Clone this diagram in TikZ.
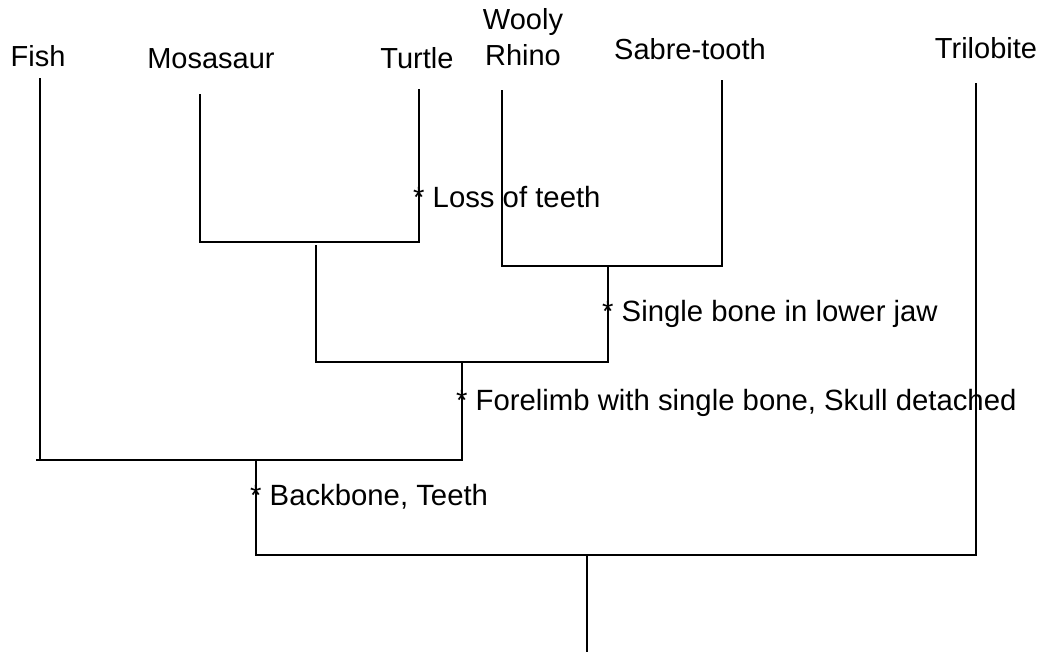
\documentclass[tikz,border=0pt]{standalone}
\usepackage{fontspec}
\setmainfont{Liberation Sans}
\begin{document}
\begin{tikzpicture}[x=1pt,y=-1pt,
  lbl/.style={font=\fontsize{29}{34}\selectfont, inner sep=0pt, anchor=base},
  trait/.style={font=\fontsize{29.3}{34}\selectfont, inner sep=0pt, anchor=base west},
  branch/.style={line width=2pt, line cap=rect}]
\useasboundingbox (0,0) rectangle (1041,652);
% taxa labels
\node[lbl] (fish) at (38,67) {Fish};
\node[lbl] (mosa) at (211,69) {Mosasaur};
\node[lbl] (turt) at (417,69) {Turtle};
\node[lbl] (wooly) at (523,30) {Wooly};
\node[lbl] (rhino) at (523,66) {Rhino};
\node[lbl] (sabre) at (690,60) {Sabre-tooth};
\node[lbl] (tril) at (986,59) {Trilobite};
% tips
\coordinate (tFish) at (40,79);
\coordinate (tMosa) at (200,95);
\coordinate (tTurt) at (419,90);
\coordinate (tRhino) at (502,91);
\coordinate (tSabre) at (722,81);
\coordinate (tTril) at (976,84);
% junction corners
\coordinate (bMosa) at (200,242);
\coordinate (bTurt) at (419,242);
\coordinate (jMT) at (316,246);
\coordinate (bRhino) at (502,266);
\coordinate (bSabre) at (722,266);
\coordinate (jMTl) at (316,362);
\coordinate (jRS) at (608,362);
\coordinate (jRStop) at (608,266);
\coordinate (jFL) at (462,362);
\coordinate (bFL) at (462,460);
\coordinate (bFish) at (40,460);
\coordinate (lFish) at (37,460);
\coordinate (jBB) at (256,460);
\coordinate (bBB) at (256,555);
\coordinate (bTril) at (976,555);
\coordinate (jRoot) at (587,555);
\coordinate (root) at (587,652);
% branches
\draw[branch] (tMosa) -- (bMosa) -- (bTurt) -- (tTurt);
\draw[branch] (tRhino) -- (bRhino) -- (bSabre) -- (tSabre);
\draw[branch] (jMT) -- (jMTl) -- (jRS) -- (jRStop);
\draw[branch] (tFish) -- (bFish);
\draw[branch] (lFish) -- (bFL) -- (jFL);
\draw[branch] (jBB) -- (bBB) -- (bTril) -- (tTril);
\draw[branch] (jRoot) -- (root);
% traits
\node[trait] (loss) at (413,208) {* Loss of teeth};
\node[trait] (jaw) at (602,321) {* Single bone in lower jaw};
\node[trait] (fore) at (456,410) {* Forelimb with single bone, Skull detached};
\node[trait] (back) at (250,505) {* Backbone, Teeth};
\end{tikzpicture}
\end{document}
